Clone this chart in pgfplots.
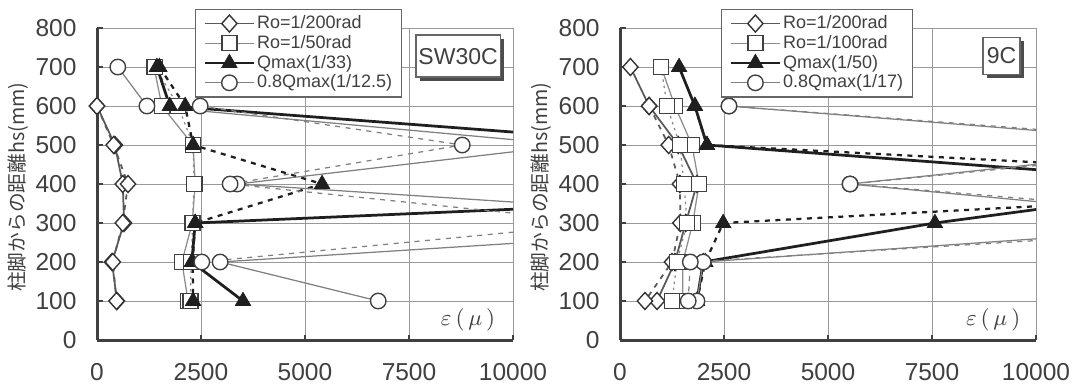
\documentclass[border=0pt]{standalone}
\usepackage{fontspec}
\setmainfont{Liberation Sans}
\newfontfamily\cjk{Noto Sans CJK JP}
\usepackage{pgfplots}
\pgfplotsset{compat=1.18}
\usetikzlibrary{shadows}
\definecolor{dia}{gray}{0.35}
\definecolor{sq}{gray}{0.55}
\definecolor{tri}{gray}{0.12}
\definecolor{cir}{gray}{0.5}
\definecolor{txt}{gray}{0.25}
\pgfplotsset{
 sD/.style={draw=dia, line width=0.7pt, mark=diamond*, mark size=3.4pt, mark options={solid, fill=white, draw=black!80, line width=0.55pt, xscale=1.2}},
 sS/.style={draw=sq, line width=0.5pt, mark=square*, mark size=3pt, mark options={solid, fill=white, draw=black!75, line width=0.55pt}},
 sT/.style={draw=tri, line width=1.1pt, mark=triangle*, mark size=3.5pt, mark options={solid, fill=tri, draw=tri, line width=0.3pt}},
 sC/.style={draw=cir, line width=0.5pt, mark=*, mark size=3.1pt, mark options={solid, fill=white, draw=black!75, line width=0.55pt}},
 dsh/.style={dash pattern=on 2pt off 2.2pt},
 dtt/.style={dash pattern=on 1pt off 1.5pt},
 myaxis/.style={
  width=166.4pt, height=124.8pt, scale only axis,
  xmin=0,xmax=10000,ymin=0,ymax=800,
  xtick={0,2500,5000,7500,10000}, ytick={0,100,...,800},
  axis x line*=bottom, axis y line*=left,
  axis line style={line width=1.2pt, draw=black!75},
  grid=major, grid style={line width=0.4pt, draw=black!40},
  tick align=inside, major tick length=2.2pt, tick style={line width=1pt, draw=black!75},
  scaled x ticks=false,
  /pgf/number format/1000 sep={}, /pgf/number format/assume math mode=true,
  ticklabel style={font=\fontsize{9.8}{10}\selectfont, text=txt},
  xticklabel style={inner sep=0pt, anchor=north, yshift=-9.2pt},
  yticklabel style={inner sep=0pt, anchor=east, xshift=-8pt},
  every axis y label/.style={at={(axis description cs:-0.19,0.49)}, rotate=90, anchor=center, font=\cjk\fontsize{7.9}{8}\selectfont, text=txt},
  ylabel={柱脚からの距離hs(mm)},
  legend style={anchor=north west, draw=black!60, fill=white, line width=0.5pt,
    font=\fontsize{7.2}{8}\selectfont, text=txt, inner xsep=3pt, inner ysep=1.5pt, row sep=-0.5pt,
    nodes={inner sep=0.6pt, text height=5.6pt, text depth=1.6pt}},
  legend cell align=left,
  legend image code/.code={\draw[mark repeat=2,mark phase=2,#1] plot coordinates {(0cm,0cm) (0.35cm,0cm) (0.7cm,0cm)};},
 }
}
\begin{document}
\begin{tikzpicture}
% ---------- left panel: SW30C ----------
\begin{axis}[myaxis, at={(38.8pt,19.6pt)}, anchor=south west,
  legend style={at={(0.2356,1.062)}}]
\addplot[sD] coordinates {(-200,700) (0,600) (430,500) (620,400) (650,300) (360,200) (480,100)};
\addplot[sD,dsh,forget plot] coordinates {(0,600) (400,500) (745,400) (620,300) (380,200) (470,100)};
\addplot[sS] coordinates {(1370,700) (1560,600) (2310,500) (2360,400) (2290,300) (2040,200) (2190,100)};
\addplot[sS,dtt,forget plot] coordinates {(1400,700) (1950,600) (2310,500) (2330,400) (2300,300) (2260,200) (2250,100)};
\addplot[sT] coordinates {(1440,700) (1750,600) (14100,500) (24000,400) (2360,300) (2280,200) (3510,100)};
\addplot[sT,dsh,line width=0.9pt,forget plot] coordinates {(1500,700) (2120,600) (2310,500) (5410,400) (2360,300) (2300,200) (2310,100)};
\addplot[sC] coordinates {(500,700) (1200,600) (11400,500) (3370,400) (17700,300) (2960,200) (6760,100)};
\addplot[sC,dsh,forget plot] coordinates {(2480,600) (8780,500) (3200,400) (12300,300) (2520,200)};
\legend{Ro=1/200rad, Ro=1/50rad, Qmax(1/33), 0.8Qmax(1/12.5)}
\node[draw=black!60, fill=white, line width=0.5pt, font=\fontsize{9.2}{10}\selectfont, text=txt,
  minimum width=33.6pt, minimum height=16.8pt, inner sep=1pt,
  drop shadow={shadow xshift=1.6pt, shadow yshift=-1.6pt, fill=black!70, opacity=1}]
  at (axis cs:8680,728) {SW30C};
\node[font=\fontsize{9}{10}\selectfont, text=txt] at (axis cs:8920,51) {$\varepsilon\,(\,\mu\,)$};
\end{axis}
% ---------- right panel: 9C ----------
\begin{axis}[myaxis, at={(248pt,19.6pt)}, anchor=south west,
  legend style={at={(0.2428,1.062)}}]
\addplot[sD] coordinates {(250,700) (700,600) (1400,500) (1850,400) (1580,300) (1320,200) (890,100)};
\addplot[sD,dsh,forget plot] coordinates {(700,600) (1170,500) (1440,400) (1450,300) (1250,200) (600,100)};
\addplot[sS] coordinates {(990,700) (1320,600) (1730,500) (1900,400) (1750,300) (1510,200) (1510,100)};
\addplot[sS,dtt,forget plot] coordinates {(990,700) (1130,600) (1440,500) (1540,400) (1610,300) (1370,200) (1250,100)};
\addplot[sT] coordinates {(1420,700) (1800,600) (2090,500) (14600,400) (7570,300) (2000,200) (1850,100)};
\addplot[sT,dsh,line width=0.9pt,forget plot] coordinates {(1800,600) (2090,500) (20000,400) (2480,300) (2050,200) (1850,100)};
\addplot[sC] coordinates {(2620,600) (14400,500) (5530,400) (15460,300) (2000,200) (1850,100)};
\addplot[sC,dsh,forget plot] coordinates {(2620,600) (15000,500) (5530,400) (16800,300) (1690,200) (1640,100)};
\legend{Ro=1/200rad, Ro=1/100rad, Qmax(1/50), 0.8Qmax(1/17)}
\node[draw=black!60, fill=white, line width=0.5pt, font=\fontsize{9.2}{10}\selectfont, text=txt,
  minimum width=14.8pt, minimum height=14.8pt, inner sep=1pt,
  drop shadow={shadow xshift=1.6pt, shadow yshift=-1.6pt, fill=black!70, opacity=1}]
  at (axis cs:9170,729) {9C};
\node[font=\fontsize{9}{10}\selectfont, text=txt] at (axis cs:8970,51) {$\varepsilon\,(\,\mu\,)$};
\end{axis}
\pgfresetboundingbox
\useasboundingbox (0,0) rectangle (431.2pt,155.6pt);
\end{tikzpicture}
\end{document}
